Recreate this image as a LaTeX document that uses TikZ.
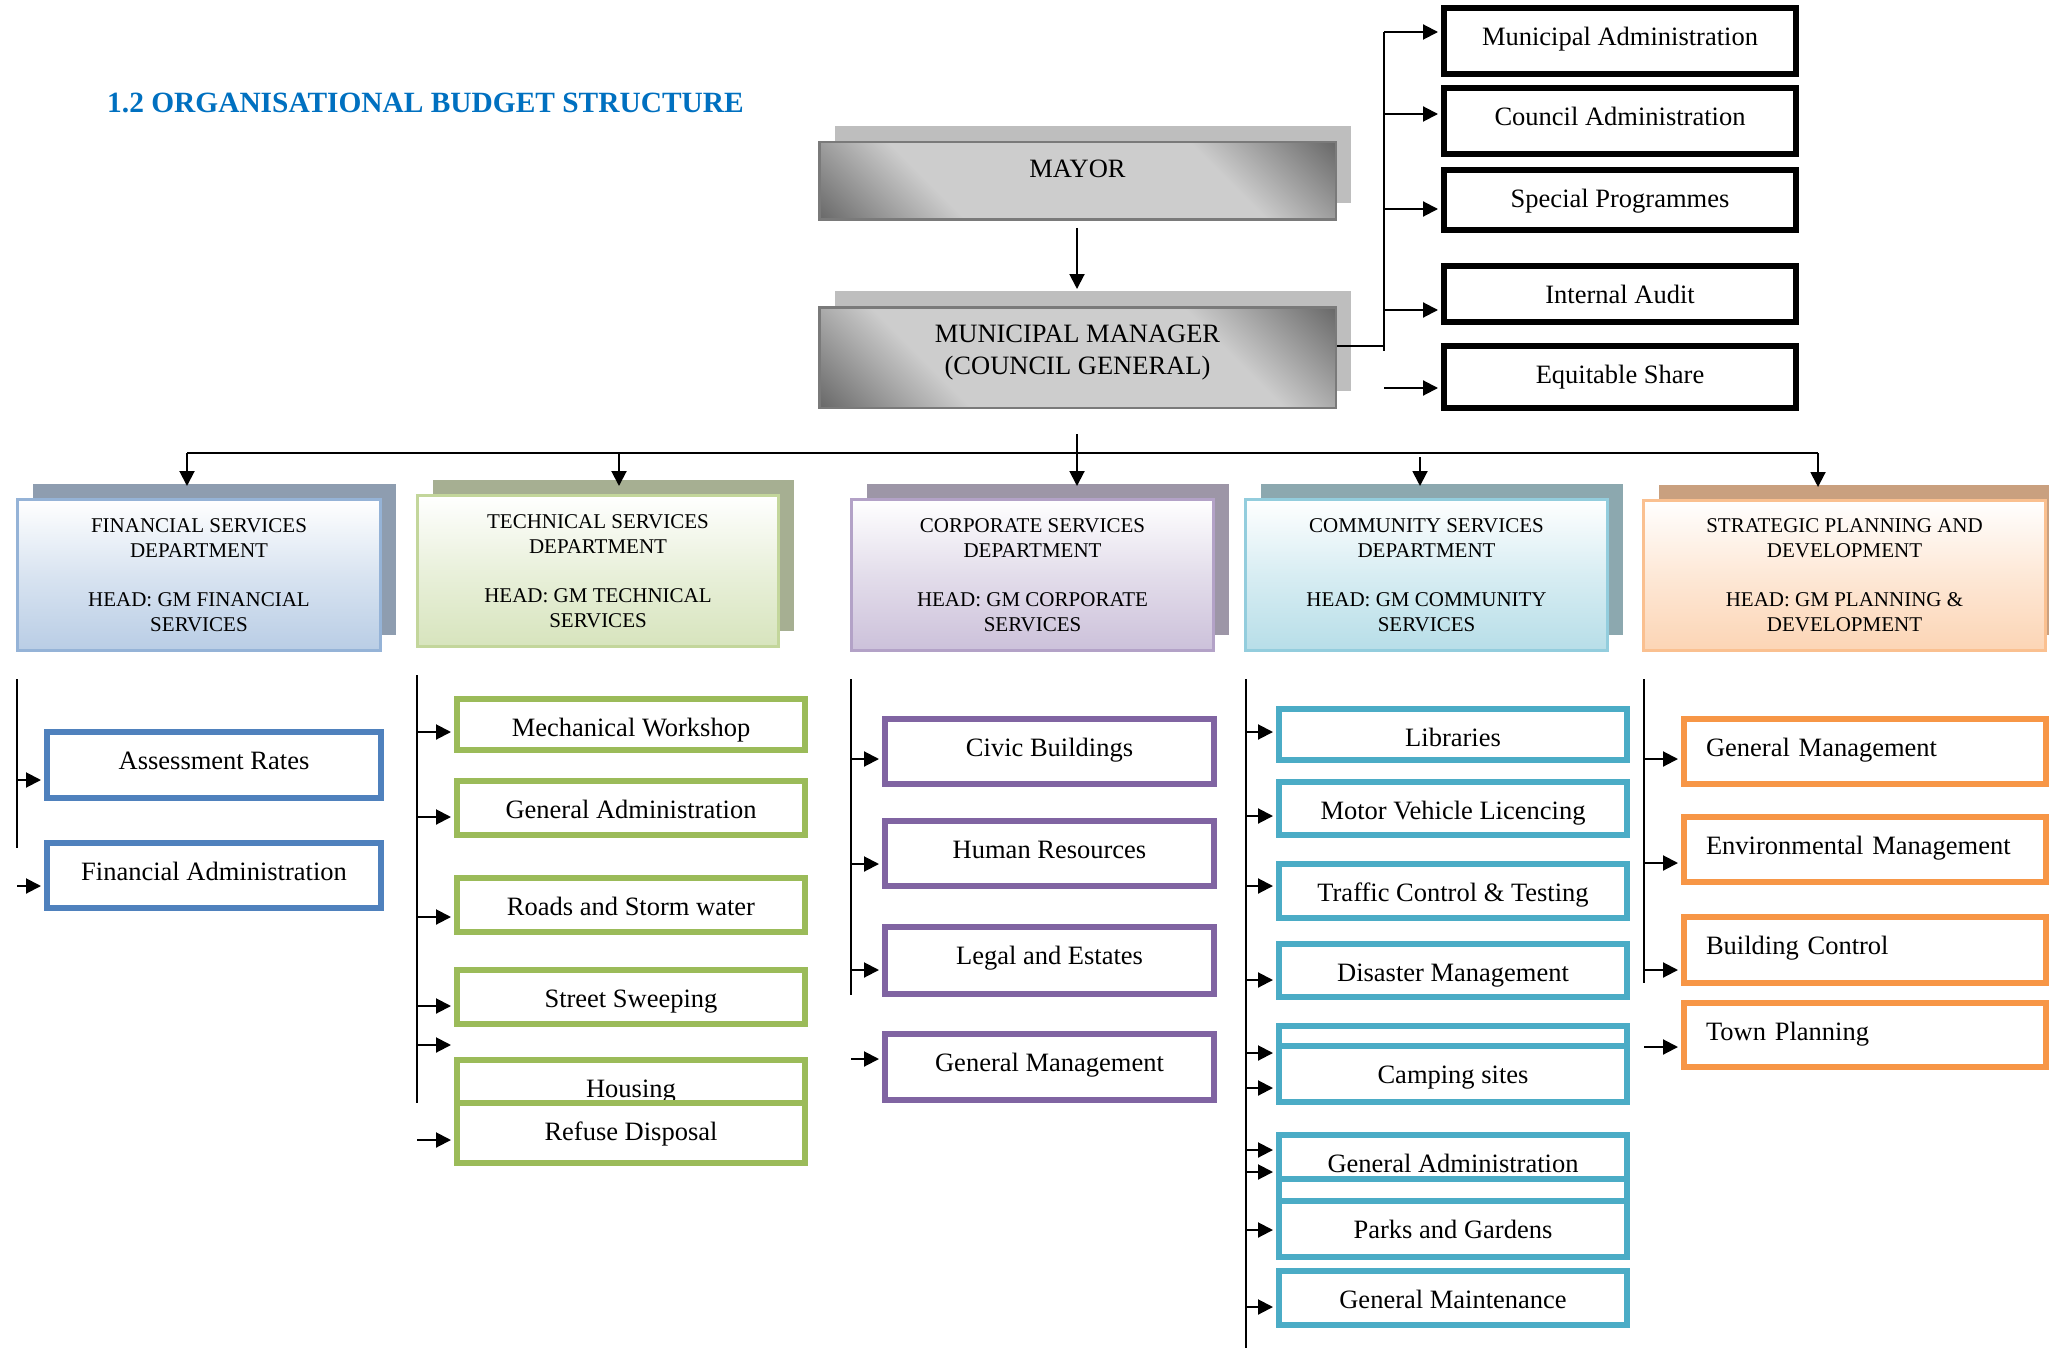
\documentclass[tikz,border=0pt]{standalone}
\usepackage{fontspec}
\setmainfont{Liberation Serif}
\usetikzlibrary{arrows.meta,shadows}
\definecolor{titleblue}{HTML}{0070C0}
\definecolor{gdark}{HTML}{6B6B6B}
\definecolor{glight}{HTML}{CDCDCD}
\definecolor{gborder}{HTML}{7A7A7A}
\definecolor{gshadow}{HTML}{BEBEBE}
\definecolor{finborder}{HTML}{95B3D7}
\definecolor{finfill}{HTML}{B9CDE5}
\definecolor{finshadow}{HTML}{8E9DB0}
\definecolor{techborder}{HTML}{C3D69B}
\definecolor{techfill}{HTML}{D7E4BD}
\definecolor{techshadow}{HTML}{A6AF92}
\definecolor{corpborder}{HTML}{B3A2C7}
\definecolor{corpfill}{HTML}{CCC1DA}
\definecolor{corpshadow}{HTML}{9D96A7}
\definecolor{commborder}{HTML}{93CDDD}
\definecolor{commfill}{HTML}{B7DEE8}
\definecolor{commshadow}{HTML}{8CA8AF}
\definecolor{stratborder}{HTML}{FAC090}
\definecolor{stratfill}{HTML}{FCD5B5}
\definecolor{stratshadow}{HTML}{C9A07F}
\definecolor{cblue}{HTML}{4F81BD}
\definecolor{cgreen}{HTML}{9BBB59}
\definecolor{cpurple}{HTML}{8064A2}
\definecolor{ccyan}{HTML}{4BACC6}
\definecolor{corange}{HTML}{F79646}
\pgfdeclarehorizontalshading{grayband}{100bp}{color(0bp)=(gdark); color(15bp)=(gdark); color(32bp)=(glight); color(68bp)=(glight); color(85bp)=(gdark); color(100bp)=(gdark)}
\begin{document}
\begin{tikzpicture}[x=1pt,y=-1pt,
  arr/.style={line width=2pt,-{Triangle[length=15pt,width=15pt]}},
  ln/.style={line width=2pt},
  bigtext/.style={font=\fontsize{26.5}{31.8}\selectfont},
  hd/.code={\pgfmathsetmacro\hdd{#1-37.5}\edef\hdtmp{\noexpand\tikzset{minimum height=#1pt,text height=37.5pt,text depth=\hdd pt}}\hdtmp},
  graybox/.style={draw=gborder,line width=2.5pt,shading=grayband,shading angle=45,
    general shadow={fill=gshadow,shadow xshift=15.5pt,shadow yshift=16.5pt},bigtext,inner sep=0pt,minimum width=516.5pt,text height=35.5pt},
  blackbox/.style={draw=black,line width=6pt,fill=white,bigtext,minimum width=352pt,inner sep=0pt},
  dept/.style={draw=#1border,line width=3pt,top color=white,bottom color=#1fill,middle color=#1fill!55!white,
    general shadow={fill=#1shadow,shadow xshift=15.5pt,shadow yshift=16pt},
    font=\fontsize{21}{25}\selectfont,align=center,inner sep=0pt,minimum height=151pt},
  sub/.style={draw=#1,line width=6pt,fill=white,bigtext,inner sep=0pt},
  orbox/.style={sub=corange,text width=318pt,inner xsep=22pt,inner ysep=0pt,align=left}
]
\useasboundingbox (0,0) rectangle (2049,1348);

% title
\node[anchor=base west,inner sep=0pt,text=titleblue,font=\bfseries\fontsize{29.4}{35}\selectfont] (title) at (107,113) {1.2 ORGANISATIONAL BUDGET STRUCTURE};

% top gray boxes
\node[graybox,minimum height=77.5pt,text depth=42pt] (mayor) at (1077.5,181) {MAYOR};
\node[graybox,minimum height=100.5pt,text depth=65pt] (mm) at (1077.5,357.5) {\begin{tabular}[t]{@{}c@{}}MUNICIPAL MANAGER\\(COUNCIL GENERAL)\end{tabular}};
\draw[arr,shorten <=7pt,shorten >=17pt] (mayor.south -| 1077,0) -- (mm.north -| 1077,0);

% right-hand black boxes
\node[blackbox,hd=66] (madmin) at (1620,41) {Municipal Administration};
\node[blackbox,hd=66] (cadmin) at (1620,121) {Council Administration};
\node[blackbox,hd=60] (sprog) at (1620,200) {Special Programmes};
\node[blackbox,hd=56] (iaudit) at (1620,294) {Internal Audit};
\node[blackbox,hd=62] (eshare) at (1620,377) {Equitable Share};

\coordinate (rb0) at (1384,32);
\coordinate (rb1) at (1384,351);
\coordinate (rbm) at (1384,346);
\draw[ln] (mm.east |- rbm) -- (rbm);
\draw[ln] (rb0) -- (rb1);
\coordinate (ra1) at (1384,32);
\coordinate (ra2) at (1384,114);
\coordinate (ra3) at (1384,209);
\coordinate (ra4) at (1384,310);
\coordinate (ra5) at (1384,388);
\draw[arr,shorten >=3pt] (ra1) -- (ra1 -| madmin.west);
\draw[arr,shorten >=3pt] (ra2) -- (ra2 -| cadmin.west);
\draw[arr,shorten >=3pt] (ra3) -- (ra3 -| sprog.west);
\draw[arr,shorten >=3pt] (ra4) -- (ra4 -| iaudit.west);
\draw[arr,shorten >=3pt] (ra5) -- (ra5 -| eshare.west);

% departments
\node[dept=fin,minimum width=363pt] (fin) at (199,575) {FINANCIAL SERVICES\\DEPARTMENT\\[24pt]HEAD: GM FINANCIAL\\SERVICES};
\node[dept=tech,minimum width=361pt] (tech) at (598,571) {TECHNICAL SERVICES\\DEPARTMENT\\[24pt]HEAD: GM TECHNICAL\\SERVICES};
\node[dept=corp,minimum width=362pt] (corp) at (1032.5,575) {CORPORATE SERVICES\\DEPARTMENT\\[24pt]HEAD: GM CORPORATE\\SERVICES};
\node[dept=comm,minimum width=362pt] (comm) at (1426.5,575) {COMMUNITY SERVICES\\DEPARTMENT\\[24pt]HEAD: GM COMMUNITY\\SERVICES};
\node[dept=strat,minimum width=402pt,minimum height=150pt] (strat) at (1844.5,575.5) {STRATEGIC PLANNING AND\\DEVELOPMENT\\[24pt]HEAD: GM PLANNING \&\\DEVELOPMENT};

% main bus
\coordinate (mmdown) at (1077,434);
\coordinate (busm) at (1077,453);
\coordinate (busl) at (187,453);
\coordinate (bust) at (619,453);
\coordinate (busr) at (1818,453);
\coordinate (busc) at (1420,457);
\draw[ln] (mmdown) -- (busm);
\draw[ln] (busl) -- (busr);
\draw[arr,shorten >=12pt] (busl) -- (busl |- fin.north);
\draw[arr,shorten >=8pt] (bust) -- (bust |- tech.north);
\draw[arr,shorten >=12pt] (busm) -- (busm |- corp.north);
\draw[arr,shorten >=12pt] (busc) -- (busc |- comm.north);
\draw[arr,shorten >=12pt] (busr) -- (busr |- strat.north);

% financial column
\node[sub=cblue,minimum width=334pt,hd=66] (ar) at (214,765) {Assessment Rates};
\node[sub=cblue,minimum width=334pt,hd=65] (fa) at (214,875.5) {Financial Administration};
\coordinate (fl0) at (17,679);
\coordinate (fl1) at (17,848);
\draw[ln] (fl0) -- (fl1);
\coordinate (fa1) at (17,780);
\coordinate (fa2) at (17,886);
\draw[arr,shorten >=3pt] (fa1) -- (fa1 -| ar.west);
\draw[arr,shorten >=3pt] (fa2) -- (fa2 -| fa.west);

% technical column
\node[sub=cgreen,minimum width=348pt,hd=51] (mw) at (631,724.5) {Mechanical Workshop};
\node[sub=cgreen,minimum width=348pt,hd=54] (tga) at (631,808) {General Administration};
\node[sub=cgreen,minimum width=348pt,hd=54] (rsw) at (631,905) {Roads and Storm water};
\node[sub=cgreen,minimum width=348pt,hd=54] (ssw) at (631,997) {Street Sweeping};
\node[sub=cgreen,minimum width=348pt,hd=55] (hous) at (631,1087.5) {Housing};
\node[sub=cgreen,minimum width=348pt,hd=60] (refd) at (631,1133) {Refuse Disposal};
\coordinate (tl0) at (417,675);
\coordinate (tl1) at (417,1103);
\draw[ln] (tl0) -- (tl1);
\coordinate (ta1) at (417,732);
\coordinate (ta2) at (417,817);
\coordinate (ta3) at (417,917);
\coordinate (ta4) at (417,1006);
\coordinate (ta5) at (417,1045);
\coordinate (ta6) at (417,1140);
\draw[arr,shorten >=3pt] (ta1) -- (ta1 -| mw.west);
\draw[arr,shorten >=3pt] (ta2) -- (ta2 -| tga.west);
\draw[arr,shorten >=3pt] (ta3) -- (ta3 -| rsw.west);
\draw[arr,shorten >=3pt] (ta4) -- (ta4 -| ssw.west);
\draw[arr,shorten >=3pt] (ta5) -- (ta5 -| hous.west);
\draw[arr,shorten >=3pt] (ta6) -- (ta6 -| refd.west);

% corporate column
\node[sub=cpurple,minimum width=329pt,hd=65] (civ) at (1049.5,751.5) {Civic Buildings};
\node[sub=cpurple,minimum width=329pt,hd=65] (hr) at (1049.5,853.5) {Human Resources};
\node[sub=cpurple,minimum width=329pt,hd=67] (leg) at (1049.5,960.5) {Legal and Estates};
\node[sub=cpurple,minimum width=329pt,hd=66] (cgm) at (1049.5,1067) {General Management};
\coordinate (cl0) at (851,679);
\coordinate (cl1) at (851,995);
\draw[ln] (cl0) -- (cl1);
\coordinate (ca1) at (851,759);
\coordinate (ca2) at (851,864);
\coordinate (ca3) at (851,970);
\coordinate (ca4) at (851,1059);
\draw[arr,shorten >=3pt] (ca1) -- (ca1 -| civ.west);
\draw[arr,shorten >=3pt] (ca2) -- (ca2 -| hr.west);
\draw[arr,shorten >=3pt] (ca3) -- (ca3 -| leg.west);
\draw[arr,shorten >=3pt] (ca4) -- (ca4 -| cgm.west);

% community column
\node[sub=ccyan,minimum width=348pt,hd=51] (lib) at (1453,734.5) {Libraries};
\node[sub=ccyan,minimum width=348pt,hd=53] (mvl) at (1453,808.5) {Motor Vehicle Licencing};
\node[sub=ccyan,minimum width=348pt,hd=54] (tct) at (1453,891) {Traffic Control \& Testing};
\node[sub=ccyan,minimum width=348pt,hd=53] (dism) at (1453,970.5) {Disaster Management};
\node[sub=ccyan,minimum width=348pt,hd=51] (emp1) at (1453,1051.5) {};
\node[sub=ccyan,minimum width=348pt,hd=56] (camp) at (1453,1074) {Camping sites};
\node[sub=ccyan,minimum width=348pt,hd=58] (cga) at (1453,1164) {General Administration};
\node[sub=ccyan,minimum width=348pt,hd=48] (emp2) at (1453,1203) {};
\node[sub=ccyan,minimum width=348pt,hd=56] (park) at (1453,1229) {Parks and Gardens};
\node[sub=ccyan,minimum width=348pt,hd=54] (gmaint) at (1453,1298) {General Maintenance};
\coordinate (ml0) at (1246,679);
\coordinate (ml1) at (1246,1348);
\draw[ln] (ml0) -- (ml1);
\coordinate (ma1) at (1246,732);
\coordinate (ma2) at (1246,816);
\coordinate (ma3) at (1246,886);
\coordinate (ma4) at (1246,980);
\coordinate (ma5) at (1246,1053);
\coordinate (ma6) at (1246,1088);
\coordinate (ma7) at (1246,1150);
\coordinate (ma8) at (1246,1172);
\coordinate (ma9) at (1246,1230);
\coordinate (ma10) at (1246,1307);
\draw[arr,shorten >=3pt] (ma1) -- (ma1 -| lib.west);
\draw[arr,shorten >=3pt] (ma2) -- (ma2 -| mvl.west);
\draw[arr,shorten >=3pt] (ma3) -- (ma3 -| tct.west);
\draw[arr,shorten >=3pt] (ma4) -- (ma4 -| dism.west);
\draw[arr,shorten >=3pt] (ma5) -- (ma5 -| emp1.west);
\draw[arr,shorten >=3pt] (ma6) -- (ma6 -| camp.west);
\draw[arr,shorten >=3pt] (ma7) -- (ma7 -| cga.west);
\draw[arr,shorten >=3pt] (ma8) -- (ma8 -| emp2.west);
\draw[arr,shorten >=3pt] (ma9) -- (ma9 -| park.west);
\draw[arr,shorten >=3pt] (ma10) -- (ma10 -| gmaint.west);

% strategic column
\node[orbox,hd=65] (sgm) at (1865,751.5) {General Management};
\node[orbox,hd=65] (senv) at (1865,849.5) {Environmental Management};
\node[orbox,hd=66] (sbc) at (1865,950) {Building Control};
\node[orbox,hd=64] (stp) at (1865,1035) {Town Planning};
\coordinate (sl0) at (1644,679);
\coordinate (sl1) at (1644,983);
\draw[ln] (sl0) -- (sl1);
\coordinate (sa1) at (1644,759);
\coordinate (sa2) at (1644,863);
\coordinate (sa3) at (1644,970);
\coordinate (sa4) at (1644,1047);
\draw[arr,shorten >=3pt] (sa1) -- (sa1 -| sgm.west);
\draw[arr,shorten >=3pt] (sa2) -- (sa2 -| senv.west);
\draw[arr,shorten >=3pt] (sa3) -- (sa3 -| sbc.west);
\draw[arr,shorten >=3pt] (sa4) -- (sa4 -| stp.west);
\end{tikzpicture}
\end{document}
